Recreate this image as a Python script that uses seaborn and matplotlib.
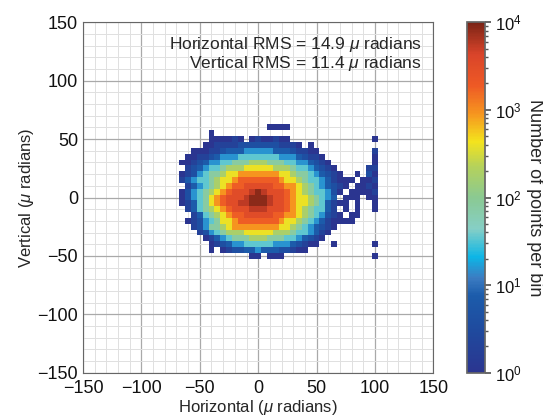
import numpy as np
import pandas as pd
import matplotlib
matplotlib.use("Agg")
import matplotlib.pyplot as plt
from matplotlib.colors import LinearSegmentedColormap, LogNorm
from matplotlib.ticker import MultipleLocator
import seaborn as sns

# bin centres in micro radians (5 urad bins)
x_bins = list(range(-65, 105, 5))     # 34 columns, x = -65 .. 100
y_rows = list(range(60, -55, -5))     # 23 rows, y = 60 .. -50

# counts for each colour step
level_counts = {"1": 1, "2": 2, "3": 4, "4": 7, "5": 15, "6": 35, "7": 80,
                "8": 180, "9": 400, "a": 900, "b": 1800, "c": 3200,
                "d": 5500, "e": 8500}

# each row: (x=-65..-5, x=0, x=5..100), "." = empty bin
rows = [
    (".............", ".", ".1111..............."),   # 60
    (".....1.......", ".", "...................."),   # 55
    (".....111121.1", "2", "11211..............1"),   # 50
    ("....112222333", "3", "3332221.1..........."),   # 45
    ("..11122344455", "5", "5544432211.........2"),   # 40
    (".112234555666", "6", "66655543221........1"),   # 35
    ("1123455667778", "8", "877766554321.......1"),   # 30
    (".234566788899", "9", "9988876654321.....22"),   # 25
    ("1235677899aaa", "a", "aaa99877654321..1.31"),   # 20
    ("245667899abbb", "b", "bbba998766542111.112"),   # 15
    (".2456789abbcc", "c", "ccbbaa987654321.1121"),   # 10
    ("1356789abcccd", "e", "dcccba98766531.11112"),   # 5
    ("135679abcccde", "e", "edccba9987654.111.11"),   # 0
    ("124679abccdde", "e", "edccba998764211.1..1"),   # -5
    (".246789abcccd", "d", "dcccba9876642.1.1..1"),   # -10
    ("..246789abbcc", "c", "ccbbaa98765321.11..."),   # -15
    (".12356799abbb", "b", "bbba998765421111...."),   # -20
    ("..2357789aaaa", "a", "aaa9987654321......."),   # -25
    ("...2356788899", "9", "998887665421........"),   # -30
    ("....124567778", "8", "87776654321........."),   # -35
    (".....12345566", "6", "6655543211..1......1"),   # -40
    (".....1.123344", "5", "44433211............"),   # -45
    ("............1", "1", ".111...............1"),   # -50
]

rms_h = 14.9
rms_v = 11.4

cells = []
for yv, (left, mid, right) in zip(y_rows, rows):
    line = left + mid + right
    assert len(line) == len(x_bins), yv
    for xv, ch in zip(x_bins, line):
        if ch != ".":
            cells.append((xv, yv, level_counts[ch]))
df = pd.DataFrame(cells, columns=["h", "v", "n"])

# jet-like map, colours picked from the reference colour bar
cmap = LinearSegmentedColormap.from_list("bar", [
    (0.00, "#2b3590"), (0.12, "#1f4a9e"), (0.22, "#1c5cab"),
    (0.27, "#3b7cc2"), (0.33, "#0db6e6"), (0.41, "#86cfc6"),
    (0.50, "#8ac992"), (0.59, "#b6d25a"), (0.66, "#f4e31d"),
    (0.74, "#f6951f"), (0.82, "#ee5a25"), (0.91, "#d9442a"),
    (1.00, "#7b2416")])

sns.set_theme(style="white")
plt.rcParams["font.family"] = ["Liberation Sans", "DejaVu Sans"]
plt.rcParams["mathtext.fontset"] = "custom"
plt.rcParams["mathtext.rm"] = "Liberation Sans"
plt.rcParams["mathtext.it"] = "Liberation Sans:italic"

fig = plt.figure(figsize=(5.43, 4.18), dpi=100)
ax = fig.add_axes([0.153, 0.108, 0.645, 0.839])
cax = fig.add_axes([0.860, 0.108, 0.033, 0.839])

edges = np.arange(-152.5, 157.5, 5)
sns.histplot(data=df, x="h", y="v", weights="n", bins=(edges, edges),
             cmap=cmap, norm=LogNorm(1, 1e4), vmin=None, vmax=None,
             cbar=True, cbar_ax=cax, ax=ax)

ax.set_xlim(-150, 150)
ax.set_ylim(-150, 150)
for axis in (ax.xaxis, ax.yaxis):
    axis.set_major_locator(MultipleLocator(50))
    axis.set_minor_locator(MultipleLocator(10))
ax.grid(which="major", color="#a9a9a9", lw=0.9)
ax.grid(which="minor", color="#e0e0e0", lw=0.7)
ax.set_axisbelow(True)
ax.tick_params(which="both", direction="in", colors="#555555",
               labelcolor="#111111", labelsize=13)
ax.tick_params(which="major", length=4, width=0.8)
ax.tick_params(which="minor", length=2.5, width=0.6)
ax.tick_params(axis="x", pad=5)
for sp in ax.spines.values():
    sp.set_color("#666666")
    sp.set_linewidth(0.8)

ax.set_xlabel(r"Horizontal ($\mu$ radians)", fontsize=12, labelpad=1)
ax.set_ylabel(r"Vertical ($\mu$ radians)", fontsize=12, labelpad=1)

ax.text(140, 131, rf"Horizontal RMS = {rms_h} $\mu$ radians",
        ha="right", va="center", fontsize=12.5)
ax.text(140, 115, rf"Vertical RMS = {rms_v} $\mu$ radians",
        ha="right", va="center", fontsize=12.5)

cax.tick_params(which="both", labelsize=12, colors="#555555",
                labelcolor="#111111", pad=3)
cax.tick_params(which="major", length=4)
cax.tick_params(which="minor", length=2)
for sp in cax.spines.values():
    sp.set_color("#666666")
cax.set_ylabel("Number of points per bin", rotation=270, fontsize=13,
               va="center")
cax.yaxis.set_label_coords(3.75, 0.5)

fig.savefig("out.png", dpi=100)
